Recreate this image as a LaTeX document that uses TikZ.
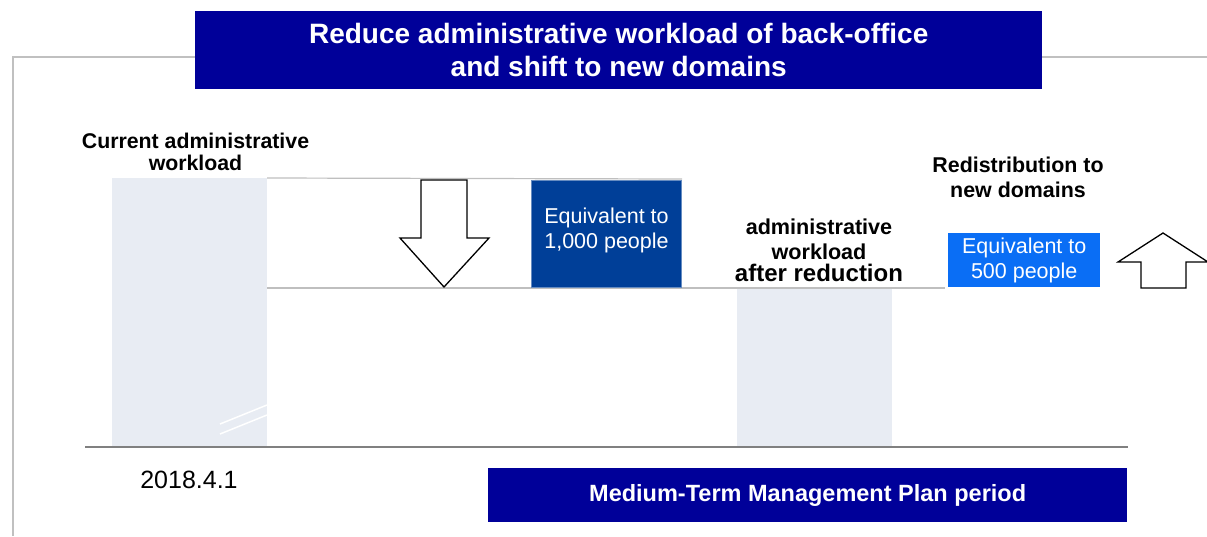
\documentclass[tikz,border=0pt]{standalone}
\usepackage{fontspec}
\setmainfont{Liberation Sans}
\definecolor{navy}{HTML}{000099}
\definecolor{midblue}{HTML}{003F98}
\definecolor{brightblue}{HTML}{0A6EF5}
\definecolor{barfill}{HTML}{E8ECF3}
\definecolor{framegray}{HTML}{C0C0C0}
\definecolor{levelgray}{HTML}{BFBFBF}
\definecolor{basegray}{HTML}{808080}
\tikzset{
  bar/.style={fill=barfill, draw=none},
  banner/.style={fill=navy, draw=none, text=white, font=\bfseries, align=center},
  blabel/.style={font=\bfseries\fontsize{21.3}{22}\selectfont, align=center, inner sep=0pt},
  eqbox/.style={text=white, font=\fontsize{21.5}{25}\selectfont, align=center, inner sep=0pt},
  level/.style={draw=levelgray, line width=1.2pt},
  blockarrow/.style={draw=black, fill=white, line width=1.3pt, line join=miter},
}
\begin{document}
\begin{tikzpicture}[x=1pt,y=-1pt]
\useasboundingbox (0,0) rectangle (1207,536);
% frame
\draw[framegray, line width=2pt] (13,536) -- (13,57) -- (1207,57);
% title banner
\node[banner, minimum width=847pt, minimum height=78pt, anchor=north west, font=\bfseries\fontsize{28}{33}\selectfont] (title) at (195,11) {Reduce administrative workload of back-office\\and shift to new domains};
% bars
\fill[bar] (112,178) rectangle (267,447);
\coordinate (bar1tr) at (267,178);
\draw[white, line width=1.5pt] (220,424) -- (267,405);
\draw[white, line width=1.5pt] (220,434) -- (267,415);
\fill[bar] (737,288) rectangle (892,447);
% level lines
\coordinate (lvtopR) at (682,179);
\coordinate (lvlowL) at (267,288);
\coordinate (lvlowR) at (945,288);
\draw[level] (bar1tr) -- (lvtopR);
\draw[level] (lvlowL) -- (lvlowR);
% baseline
\coordinate (baseL) at (85,447);
\coordinate (baseR) at (1128,447);
\draw[basegray, line width=2.4pt] (baseL) -- (baseR);
% labels
\node[blabel] (cur) at (195.5,152) {Current administrative\\workload};
\node[blabel, font=\bfseries\fontsize{21.6}{25}\selectfont] (after) at (819,250) {administrative\\workload\\[-3pt]{\fontsize{24}{22}\selectfont after reduction}};
\node[blabel, font=\bfseries\fontsize{21.4}{25}\selectfont] (redis) at (1018,177) {Redistribution to\\new domains};
% boxes
\node[eqbox, fill=midblue, draw=midblue!60!white, line width=1pt, minimum width=150pt, minimum height=107pt, anchor=north west] (k1000) at (531,180) {};
\node[eqbox] (k1000t) at ([yshift=4pt]k1000.center) {Equivalent to\\1,000 people};
\node[eqbox, fill=brightblue, minimum width=152pt, minimum height=54pt, anchor=north west] (k500) at (948,233) {Equivalent to\\500 people};
% down arrow
\draw[blockarrow] (421,180) -- (467,180) -- (467,238) -- (489,238) -- (444,287) -- (400,238) -- (421,238) -- cycle;
% up arrow
\draw[blockarrow] (1141,288) -- (1141,262) -- (1118,262) -- (1163,233) -- (1208,262) -- (1186,262) -- (1186,288) -- cycle;
% date
\node[font=\fontsize{25}{26}\selectfont, inner sep=0pt] (date) at (189,480) {2018.4.1};
% bottom banner
\node[banner, minimum width=639pt, minimum height=54pt, anchor=north west, font=\bfseries\fontsize{23.5}{26}\selectfont] (plan) at (488,468) {Medium-Term Management Plan period};
\end{tikzpicture}
\end{document}
